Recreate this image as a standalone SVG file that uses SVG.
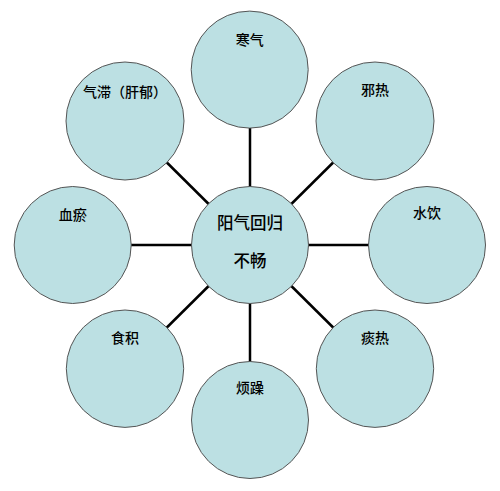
<svg xmlns="http://www.w3.org/2000/svg" width="500" height="491" viewBox="0 0 500 491">
<style>
.n{fill:#bce0e3;stroke:#555;stroke-width:1}
.c{stroke:#000;stroke-width:2.5;fill:none}
.t{font-family:"Noto Sans CJK SC","Noto Sans CJK JP",sans-serif;font-size:14px;font-weight:500;fill:#000;text-anchor:middle}
.tc{font-family:"Noto Sans CJK SC","Noto Sans CJK JP",sans-serif;font-size:16.5px;font-weight:500;fill:#000;text-anchor:middle}
</style>
<rect width="500" height="491" fill="#fff"/>
<g id="connectors">
<line class="c" x1="250" y1="245" x2="250" y2="69.5"/>
<line class="c" x1="250" y1="245" x2="375" y2="121"/>
<line class="c" x1="250" y1="245" x2="427" y2="245"/>
<line class="c" x1="250" y1="245" x2="375" y2="369"/>
<line class="c" x1="250" y1="245" x2="250" y2="420"/>
<line class="c" x1="250" y1="245" x2="125" y2="369"/>
<line class="c" x1="250" y1="245" x2="72.5" y2="245"/>
<line class="c" x1="250" y1="245" x2="125" y2="121"/>
</g>
<g id="center"><circle class="n" cx="250" cy="245" r="58.5"/><text class="tc" x="250" y="229">阳气回归</text><text class="tc" x="250" y="267">不畅</text></g>
<g id="hanqi"><circle class="n" cx="249.7" cy="69.6" r="58.5"/><text class="t" x="249.7" y="45">寒气</text></g>
<g id="xiere"><circle class="n" cx="375" cy="121" r="59"/><text class="t" x="375" y="95">邪热</text></g>
<g id="shuiyin"><circle class="n" cx="427" cy="245" r="58.5"/><text class="t" x="427" y="218">水饮</text></g>
<g id="tanre"><circle class="n" cx="375" cy="368.7" r="58.7"/><text class="t" x="375" y="343">痰热</text></g>
<g id="fanzao"><circle class="n" cx="250" cy="420" r="58.5"/><text class="t" x="250" y="393">烦躁</text></g>
<g id="shiji"><circle class="n" cx="125" cy="368.7" r="58.7"/><text class="t" x="125" y="343">食积</text></g>
<g id="xueyu"><circle class="n" cx="72.7" cy="245" r="58.5"/><text class="t" x="72.7" y="220">血瘀</text></g>
<g id="qizhi"><circle class="n" cx="125" cy="121" r="59"/><text class="t" x="125" y="96.5">气滞（肝郁）</text></g>
</svg>
